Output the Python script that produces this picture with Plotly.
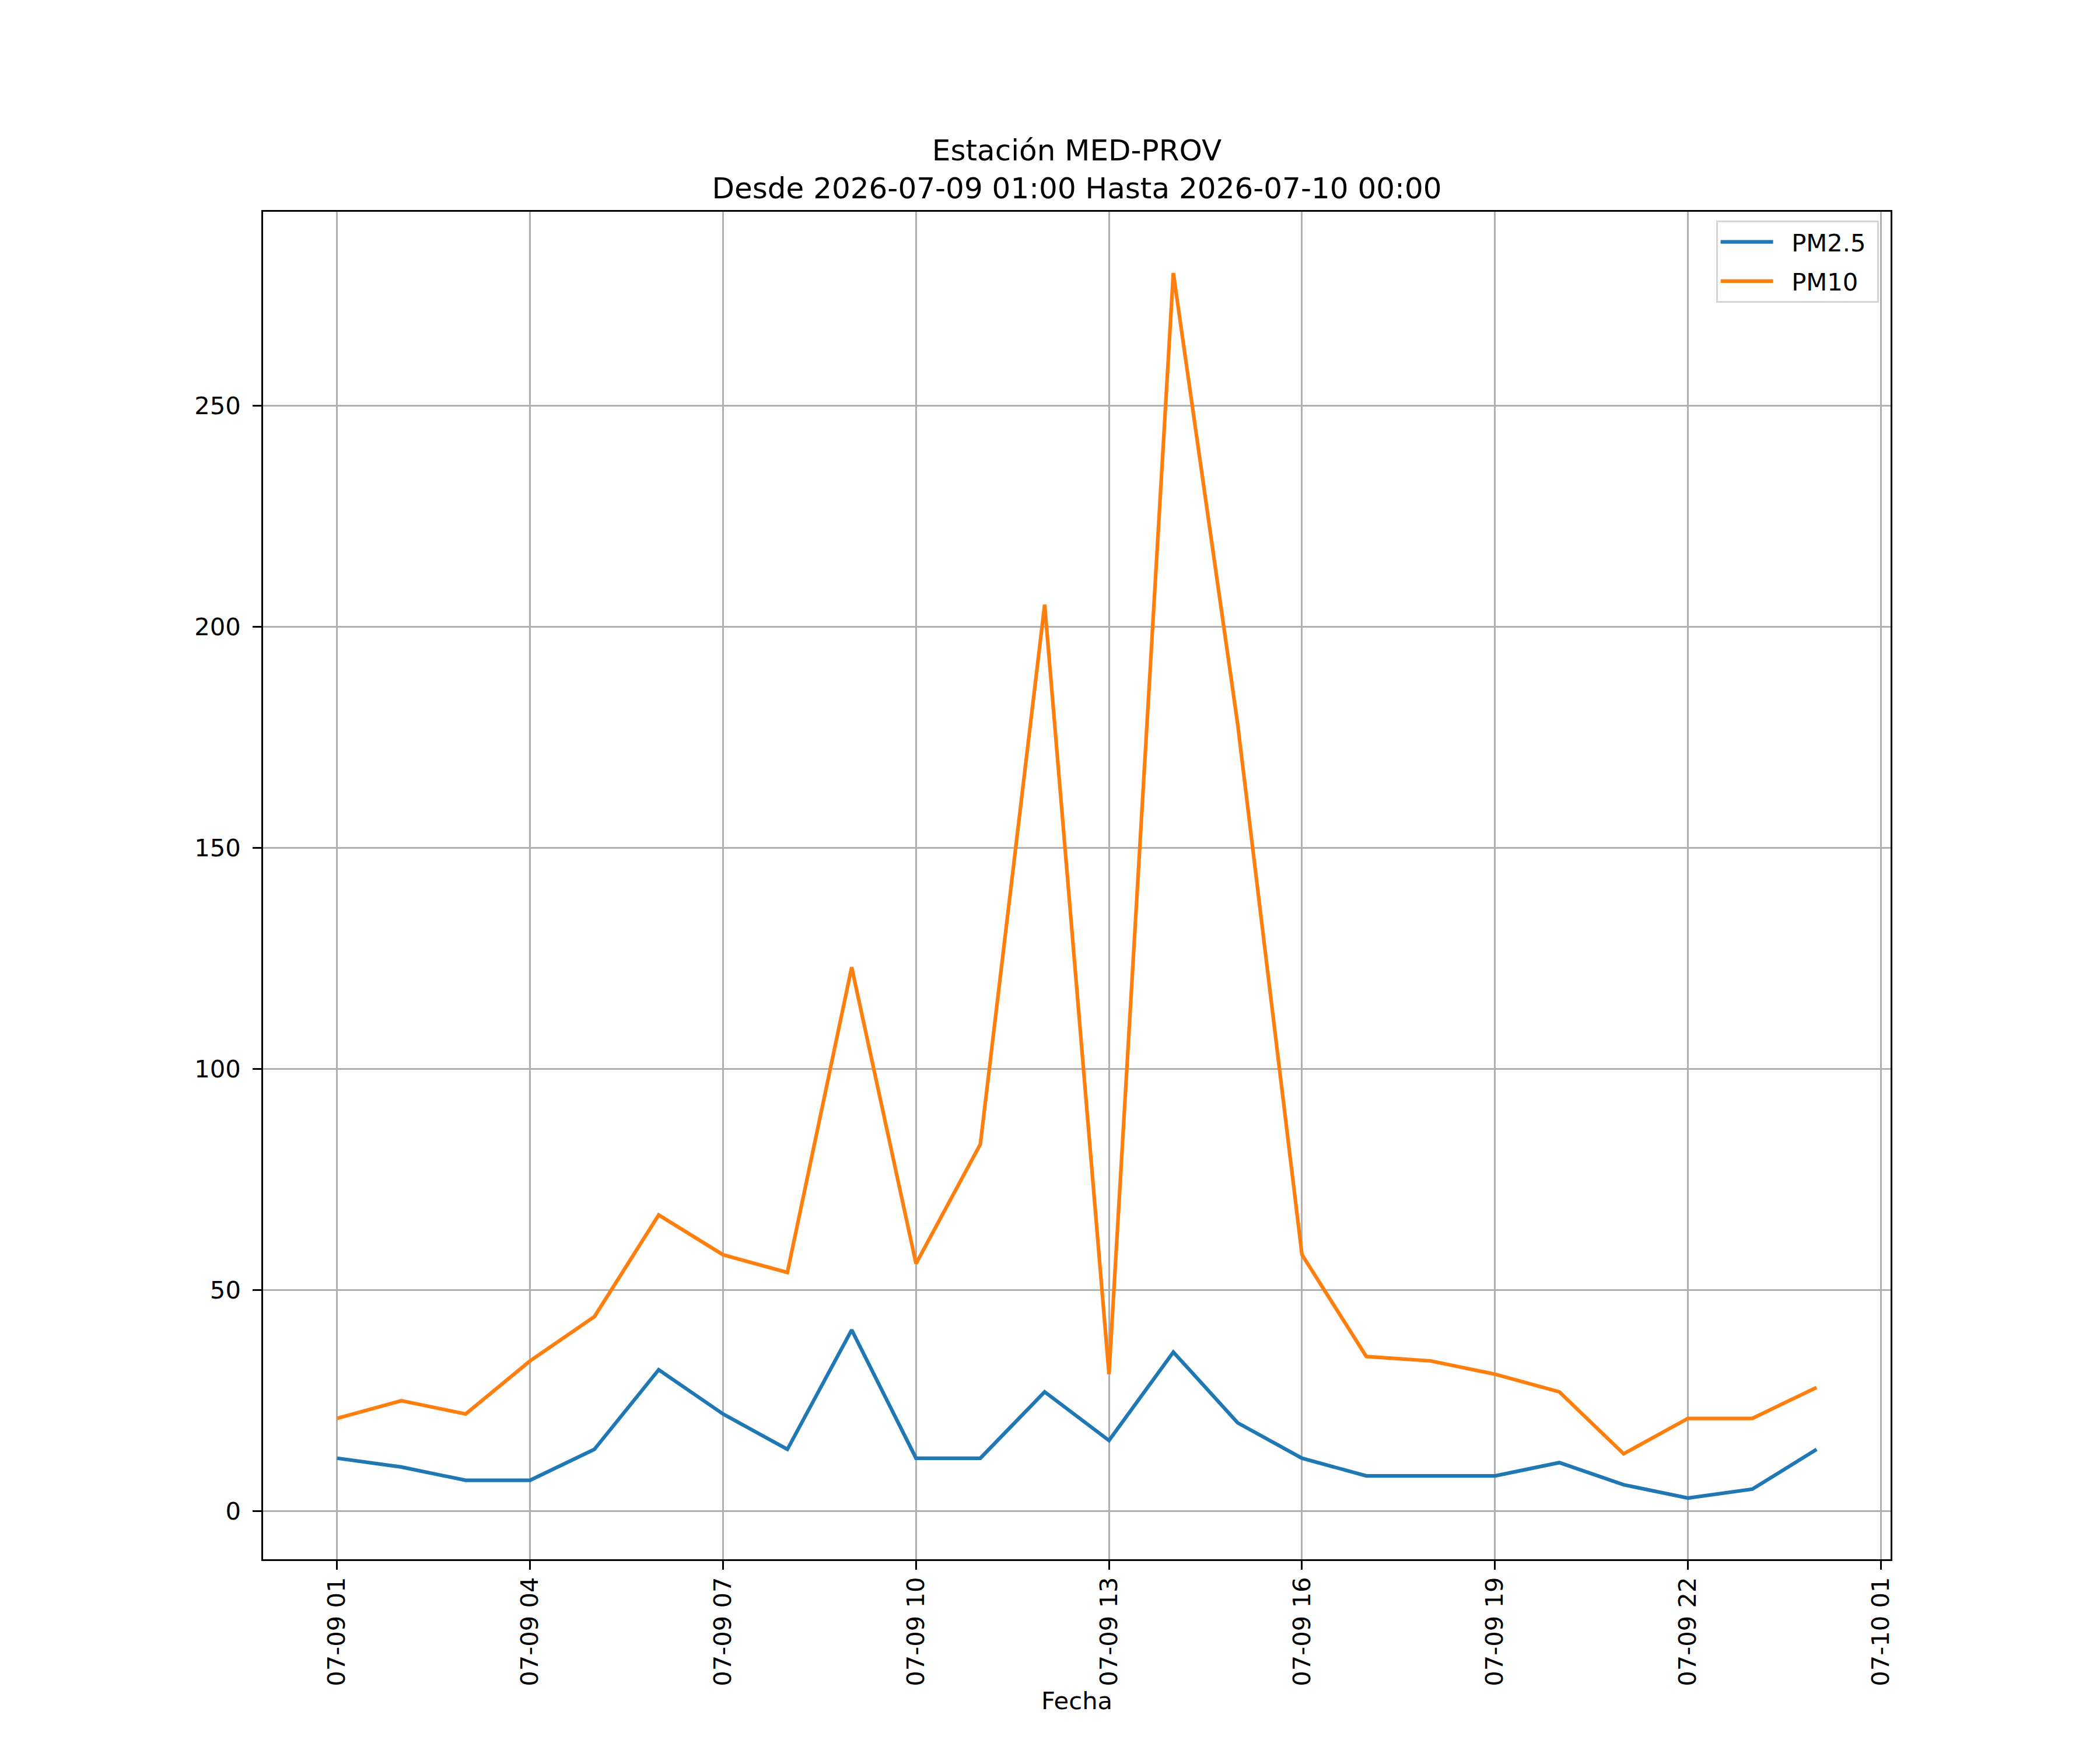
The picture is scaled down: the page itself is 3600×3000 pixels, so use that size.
import pandas as pd
import plotly.graph_objects as go

# hourly readings, 07-09 01:00 .. 07-10 00:00
fechas = pd.date_range("2026-07-09 01:00", periods=24, freq="h")
pm25 = [12, 10, 7, 7, 14, 32, 22, 14, 41, 12, 12, 27,
        16, 36, 20, 12, 8, 8, 8, 11, 6, 3, 5, 14]
pm10 = [21, 25, 22, 34, 44, 67, 58, 54, 123, 56, 83, 205,
        31, 280, 178, 58, 35, 34, 31, 27, 13, 21, 21, 28]

tick_labels = ["07-09 01", "07-09 04", "07-09 07", "07-09 10", "07-09 13",
               "07-09 16", "07-09 19", "07-09 22", "07-10 01"]
tick_vals = ["2026-%s %s:00" % (t[:5], t[6:]) for t in tick_labels]
y_ticks = [0, 50, 100, 150, 200, 250]

font = "DejaVu Sans"
fs = 41.7   # 10pt at 300 dpi
lw = 3.3    # 0.8pt
sp = "\u00a0"  # padding around legend labels

fig = go.Figure()
fig.add_trace(go.Scatter(x=fechas, y=pm25, mode="lines", name=sp * 2 + "PM2.5" + sp,
                         legendgroup="a",
                         line=dict(color="#1f77b4", width=6.25)))
fig.add_trace(go.Scatter(x=fechas, y=pm10, mode="lines", name=sp * 2 + "PM10" + sp,
                         legendgroup="b",
                         line=dict(color="#ff7f0e", width=6.25)))

fig.update_layout(
    width=3600, height=3000,
    margin=dict(l=443, r=367, t=355, b=335),
    paper_bgcolor="white", plot_bgcolor="white",
    font=dict(family=font, size=fs, color="black"),
    title=dict(
        text="Estación MED-PROV<br>Desde 2026-07-09 01:00 Hasta 2026-07-10 00:00",
        x=0.5, xref="paper", xanchor="center",
        y=1 - 267 / 3000, yref="container", yanchor="bottom",
        font=dict(family=font, size=50, color="black"),
    ),
    legend=dict(
        x=0.9927, y=0.9935, xanchor="right", yanchor="top",
        bgcolor="rgba(255,255,255,0.8)", bordercolor="#d5d5d5", borderwidth=3,
        itemwidth=90, tracegroupgap=10,
        font=dict(family=font, size=fs, color="black"),
    ),
    showlegend=True,
)

fig.update_xaxes(
    type="date",
    range=["2026-07-08 23:51", "2026-07-10 01:09"],
    tickvals=tick_vals, ticktext=tick_labels, tickangle=-90,
    ticks="outside", ticklen=14.6, tickwidth=lw, tickcolor="black",
    ticklabelstandoff=-4,
    showline=True, linecolor="black", linewidth=lw, mirror=True,
    showgrid=True, gridcolor="#b0b0b0", gridwidth=lw, zeroline=False,
    title=dict(text="Fecha", standoff=10, font=dict(family=font, size=fs)),
)
fig.update_yaxes(
    range=[-10.85, 293.85],
    tickvals=y_ticks,
    ticks="outside", ticklen=14.6, tickwidth=lw, tickcolor="black",
    ticklabelstandoff=12,
    showline=True, linecolor="black", linewidth=lw, mirror=True,
    showgrid=True, gridcolor="#b0b0b0", gridwidth=lw, zeroline=False,
)

fig.write_html("out.html")
